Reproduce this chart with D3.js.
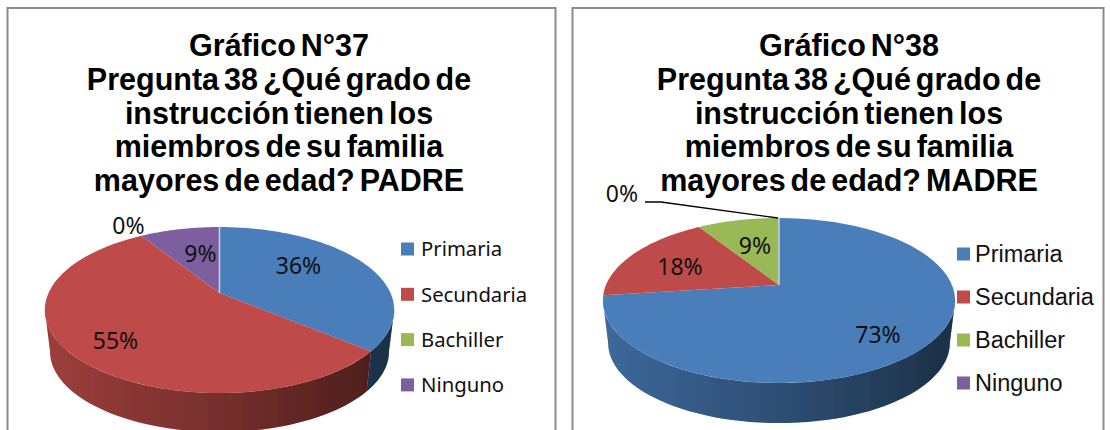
<!DOCTYPE html>
<html>
<head>
<meta charset="utf-8">
<script src="https://cdnjs.cloudflare.com/ajax/libs/d3/7.8.5/d3.min.js"></script>
<style>
	html, body { margin: 0; padding: 0; background: #fff; overflow: hidden; }
	.title { font-family: "Liberation Sans", Arial, sans-serif; font-weight: bold; font-size: 30.5px; word-spacing: -3.5px; fill: #000; }
	.pct { font-family: "Noto Sans", sans-serif; font-size: 23px; fill: #111; }
</style>
</head>
<body>
<div id="chart"></div>
<script>
var categories = ['Primaria', 'Secundaria', 'Bachiller', 'Ninguno'];
var colors = ['#4a7ebb', '#be4b48', '#98b954', '#7d5fa0'];

var padreValues = [36, 55, 0, 9];
var madreValues = [73, 18, 9, 0];

var padreTitle = ['Gráfico N°37', 'Pregunta 38 ¿Qué grado de', 'instrucción tienen los', 'miembros de su familia', 'mayores de edad? PADRE'];
var madreTitle = ['Gráfico N°38', 'Pregunta 38 ¿Qué grado de', 'instrucción tienen los', 'miembros de su familia', 'mayores de edad? MADRE'];

var panels = [
	{
		id: 'padre', values: padreValues, title: padreTitle,
		frame: { x: 7.5, y: 8, w: 548 }, titleX: 279,
		cx: 219.5, cy: 293, a: 79.5, b: 171, k: 0.205, depth: 42,
		// label offsets from the pie centre, same order as categories
		labels: [[79, -27], [-104, 48], [null, null], [-19, -39]],
		zeroLabel: [-91, -67],
		legend: { x: 401, y: 249, step: 45.3, swatch: 13, gap: 7, size: 20.3, font: '"Noto Sans", sans-serif' }
	},
	{
		id: 'madre', values: madreValues, title: madreTitle,
		frame: { x: 572.5, y: 8, w: 531 }, titleX: 849,
		cx: 779, cy: 285, a: 79.6, b: 173, k: 0.188, depth: 43,
		labels: [[99, 50], [-99, -18], [-24, -39], [null, null]],
		zeroLabel: [-157, -91],
		leader: [[-134, -83], [-118, -83], [-1, -67]],
		legend: { x: 957, y: 254, step: 43, swatch: 13, gap: 5, size: 23.5, font: '"Liberation Sans", Arial, sans-serif' }
	}
];

var svg = d3.select('#chart').append('svg')
	.attr('width', 1110)
	.attr('height', 430);

var defs = svg.append('defs');
var pie = d3.pie().sort(null).value(function(d) { return d; });
var line = d3.line();

defs.append('filter')
	.attr('id', 'soft')
	.append('feGaussianBlur')
	.attr('stdDeviation', 0.6);

// angle 0 is the back of the pie, v grows towards the viewer
function project(p, angle, r) {
	var u = r * Math.sin(angle);
	var v = -r * Math.cos(angle);
	var w = 1 - p.k * v;
	return [p.cx + p.b * u / w, p.cy + p.a * v / w];
}

function rimPoint(p, angle) {
	var pt = project(p, angle, 1);
	return [p.cx + (pt[0] - p.cx) * 0.97, p.cy + (pt[1] - p.cy) * 0.97 + p.depth];
}

function arcAngles(start, end) {
	return d3.range(0, 61).map(function(i) {
		return start + (end - start) * i / 60;
	});
}

function drawPanel(p) {
	var g = svg.append('g').attr('class', p.id);

	g.append('rect')
		.attr('x', p.frame.x)
		.attr('y', p.frame.y)
		.attr('width', p.frame.w)
		.attr('height', 460)
		.attr('fill', '#fff')
		.attr('stroke', '#8c8c8c')
		.attr('stroke-width', 2);

	g.selectAll('text.title')
		.data(p.title)
		.enter().append('text')
		.attr('class', 'title')
		.attr('x', p.titleX)
		.attr('y', function(d, i) { return 56 + i * 33.8; })
		.attr('text-anchor', 'middle')
		.text(function(d) { return d; });

	var slices = pie(p.values);

	// wall shade gets darker to the right
	var shadeId = 'shade-' + p.id;
	var shade = defs.append('linearGradient')
		.attr('id', shadeId)
		.attr('gradientUnits', 'userSpaceOnUse')
		.attr('x1', p.cx - p.b).attr('x2', p.cx + p.b)
		.attr('y1', 0).attr('y2', 0);
	shade.append('stop').attr('offset', 0).attr('stop-color', '#000').attr('stop-opacity', 0.18);
	shade.append('stop').attr('offset', 0.55).attr('stop-color', '#000').attr('stop-opacity', 0.4);
	shade.append('stop').attr('offset', 1).attr('stop-color', '#000').attr('stop-opacity', 0.62);

	var live = slices.filter(function(d) { return d.value > 0; });
	var marks = g.append('g').attr('filter', 'url(#soft)');

	// only the part in front of the widest point of the ellipse has a wall
	var turn = Math.acos(p.k);
	var wallFrom = Math.PI - turn;
	var wallTo = Math.PI + turn;

	live.forEach(function(d) {
		var start = Math.max(d.startAngle, wallFrom);
		var end = Math.min(d.endAngle, wallTo);
		if (end <= start) { return; }

		var angles = arcAngles(start, end);
		var top = angles.map(function(a) { return project(p, a, 1); });
		var rim = angles.map(function(a) { return rimPoint(p, a); }).reverse();
		var wall = line(top.concat(rim)) + 'Z';
		marks.append('path').attr('d', wall).attr('fill', colors[d.index]);
		marks.append('path').attr('d', wall).attr('fill', 'url(#' + shadeId + ')');
	});

	live.forEach(function(d) {
		var edge = arcAngles(d.startAngle, d.endAngle).map(function(a) { return project(p, a, 1); });
		marks.append('path')
			.attr('d', line([[p.cx, p.cy]].concat(edge)) + 'Z')
			.attr('fill', colors[d.index]);
	});

	// pale seam at twelve o'clock
	marks.append('path')
		.attr('d', line([[p.cx, p.cy], project(p, 0, 1)]))
		.attr('stroke', '#c9d3e2')
		.attr('stroke-width', 1.5)
		.attr('fill', 'none');

	if (p.leader) {
		g.append('path')
			.attr('d', line(p.leader.map(function(o) { return [p.cx + o[0], p.cy + o[1]]; })))
			.attr('stroke', '#000')
			.attr('stroke-width', 1.3)
			.attr('fill', 'none');
	}

	slices.forEach(function(d, i) {
		var off = d.value > 0 ? p.labels[i] : p.zeroLabel;
		g.append('text')
			.attr('class', 'pct')
			.attr('x', p.cx + off[0])
			.attr('y', p.cy + off[1])
			.attr('dy', '0.36em')
			.attr('text-anchor', 'middle')
			.text(d.value + '%');
	});

	var y = d3.scalePoint()
		.domain(categories)
		.range([p.legend.y, p.legend.y + p.legend.step * 3]);

	var items = g.selectAll('g.legend')
		.data(categories)
		.enter().append('g')
		.attr('class', 'legend')
		.attr('transform', function(d) { return 'translate(' + p.legend.x + ',' + y(d) + ')'; });

	items.append('rect')
		.attr('x', 0)
		.attr('y', -p.legend.swatch / 2)
		.attr('width', p.legend.swatch)
		.attr('height', p.legend.swatch)
		.attr('fill', function(d, i) { return colors[i]; });

	items.append('text')
		.attr('x', p.legend.swatch + p.legend.gap)
		.attr('dy', '0.36em')
		.style('font-family', p.legend.font)
		.style('font-size', p.legend.size + 'px')
		.attr('fill', '#111')
		.text(function(d) { return d; });
}

panels.forEach(drawPanel);
</script>
</body>
</html>
